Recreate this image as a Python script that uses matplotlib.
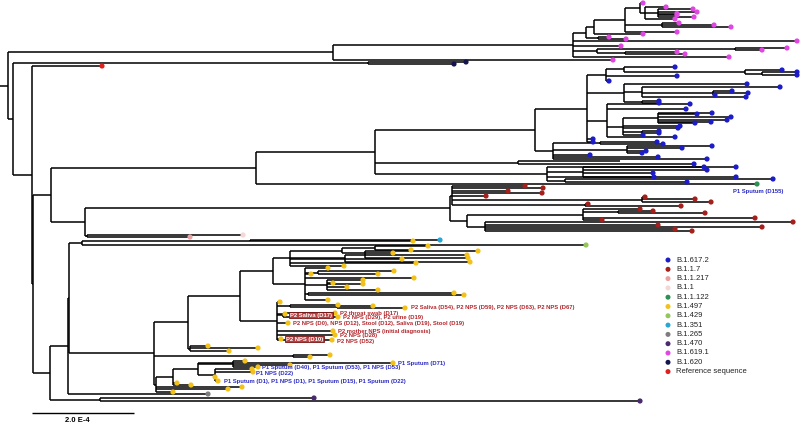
import matplotlib.pyplot as plt

plt.rcParams['font.family'] = ['Liberation Sans', 'DejaVu Sans']

lineages = ["B.1.617.2", "B.1.1.7", "B.1.1.217", "B.1.1", "B.1.1.122", "B.1.497",
            "B.1.429", "B.1.351", "B.1.265", "B.1.470", "B.1.619.1", "B.1.620",
            "Reference sequence"]
lineage_colors = ["#1c1cc8", "#a3201c", "#e9a3a3", "#f4d7d7", "#2f8f55", "#f2c21b",
                  "#96c55b", "#2aa6d6", "#7d7d7d", "#4a2a6e", "#e047e0", "#14144f",
                  "#e0201c"]

# divergence is given in units where 102 = 2.0 E-4 substitutions/site
scale_len = 102
scale_text = "2.0 E-4"

# internal nodes: (name, parent, divergence)
backbone_nodes = [("root", None, 8), ("B", "root", 13), ("D", "B", 32), ("E", "D", 33),
                  ("F", "E", 51), ("G", "E", 50), ("H", "F", 256), ("I", "F", 85),
                  ("K", "H", 375), ("M", "G", 68), ("M2", "M", 69), ("N", "G", 100),
                  ("C", "B", 368), ("PK", "I", 87), ("W", "M2", 82), ("W1", "W", 250),
                  ("X", "M2", 154), ("Z", "X", 293)]
pink_nodes = [("A", "root", 333), ("A1", "A", 573), ("A11", "A1", 586), ("A111", "A11", 594),
              ("A1111", "A111", 625), ("A11111", "A1111", 640), ("A111111", "A11111", 645),
              ("A1111111", "A111111", 658), ("A11112", "A1111", 662), ("A112", "A11", 598),
              ("A12", "A1", 597), ("A121", "A12", 735), ("A122", "A12", 625)]
blue_nodes = [("BL", "K", 535), ("BLa", "BL", 587), ("B1", "BLa", 606), ("B11", "B1", 624),
              ("B111", "B11", 745), ("B1111", "B111", 762), ("B2", "BLa", 624), ("B21", "B2", 642),
              ("B211", "B21", 713), ("B22", "B2", 642), ("B3", "BLa", 607), ("B31", "B3", 623),
              ("B311", "B31", 658), ("B312", "B31", 642), ("BLb", "BL", 553), ("B4", "BLb", 627),
              ("B41", "BLb", 600), ("Q", "K", 467), ("Q1", "Q", 518), ("S", "K", 547),
              ("S1", "S", 583), ("S2", "S", 565)]
alpha_nodes = [("RED", "I", 450), ("Ra", "RED", 452), ("Rc", "RED", 467), ("Rb1", "Ra", 642),
               ("Rb2", "Ra", 585), ("Rc1", "Rc", 583), ("Rc11", "Rc1", 618), ("Rc2", "Rc", 485)]
yellow_nodes = [("Y1", "X", 188), ("Ylow", "Y1", 190), ("Y2", "Y1", 240), ("UY", "Y2", 273),
                ("UYa", "UY", 290), ("UYa1", "UYa", 342), ("UYa11", "UYa1", 375), ("UYa2", "UYa", 345),
                ("UYa21", "UYa2", 365), ("UYb", "UY", 305), ("UYb1", "UYb", 318), ("UYb2", "UYb", 327),
                ("UYb3", "UYb", 308), ("P2", "Y2", 277), ("P2a", "P2", 290), ("P2a1", "P2a", 337),
                ("P2b", "P2", 283), ("P1", "X", 156), ("P1a", "P1", 173), ("P1b", "P1a", 198),
                ("Zc", "P1b", 233), ("P1c", "P1b", 215)]

# tips: (parent, divergence, row, lineage index)
backbone_tips = [("D", 102, 66, 12), ("C", 466, 62, 11), ("C", 454, 64, 11),
                 ("H", 757, 184, 4), ("PK", 243, 235, 3), ("PK", 190, 237, 2),
                 ("M", 208, 394, 8), ("N", 314, 398, 9), ("N", 640, 401, 9),
                 ("W1", 413, 241, 5), ("W1", 440, 240, 7), ("W", 586, 245, 6),
                 ("Z", 310, 357, 5), ("Z", 330, 355, 5)]
pink_tips = [("A11111", 643, 3, 10), ("A111111", 666, 7, 10), ("A1111111", 693, 9, 10),
             ("A1111111", 697, 12, 10), ("A1111111", 677, 13.5, 10), ("A1111111", 677, 15, 10),
             ("A1111111", 694, 17, 10), ("A111111", 675, 19, 10), ("A11112", 679, 23, 10),
             ("A11112", 714, 25, 10), ("A11112", 731, 27, 10), ("A1111", 677, 32, 10),
             ("A111", 643, 34, 10), ("A112", 609, 37, 10), ("A112", 626, 39, 10),
             ("A1", 797, 41, 10), ("A1", 621, 46, 10), ("A121", 787, 48, 10), ("A121", 762, 50, 10),
             ("A122", 677, 52, 10), ("A122", 685, 54, 10), ("A1", 729, 57, 10), ("A", 613, 60, 10)]
blue_tips = [("B11", 675, 67, 0), ("B111", 782, 70, 0), ("B1111", 797, 72, 0), ("B1111", 797, 75, 0),
             ("B1", 677, 76, 0), ("B1", 609, 81, 0), ("B2", 747, 84, 0), ("B21", 780, 87, 0),
             ("B211", 732, 91, 0), ("B211", 748, 93, 0), ("B211", 715, 95, 0), ("B21", 746, 97, 0),
             ("B22", 659, 101, 0), ("B22", 659, 103, 0), ("B3", 690, 104, 0), ("B3", 686, 109, 0),
             ("B311", 712, 113, 0), ("B311", 697, 114, 0), ("B311", 731, 117, 0), ("B311", 727, 120, 0),
             ("B311", 711, 122, 0), ("B311", 695, 123, 0), ("B31", 680, 126, 0), ("B31", 678, 128, 0),
             ("B312", 659, 131, 0), ("B312", 659, 133, 0), ("B31", 643, 135, 0), ("B3", 675, 137, 0),
             ("BLa", 593, 139, 0), ("BLa", 593, 142, 0),
             ("B41", 657, 142, 0), ("B41", 663, 144, 0), ("B4", 712, 146, 0), ("B4", 682, 148, 0),
             ("B4", 646, 151, 0), ("B4", 642, 153, 0), ("BLb", 590, 155, 0), ("BLb", 658, 157, 0),
             ("BLb", 707, 159, 0), ("Q1", 620, 161, None), ("Q1", 694, 164, 0),
             ("S", 736, 167, 0), ("S1", 704, 167, 0), ("S1", 707, 170, 0), ("S1", 653, 173, 0),
             ("S1", 654, 177, 0), ("S", 736, 177, 0), ("S2", 773, 179, 0), ("S2", 687, 182, 0)]
alpha_tips = [("Ra", 525, 186, 1), ("Ra", 543, 188, 1), ("Ra", 508, 191, 1), ("Ra", 542, 193, 1),
              ("Ra", 486, 196, 1), ("Rb1", 645, 197, 1), ("Rb1", 695, 199, 1), ("Rb1", 711, 202, 1),
              ("Rb2", 588, 204, 1), ("Rb2", 681, 206, 1), ("Rc1", 640, 209, 1), ("Rc11", 653, 211, 1),
              ("Rc11", 705, 213, 1), ("Rc1", 755, 218, 1), ("Rc1", 602, 220, 1), ("Rc2", 793, 222, 1),
              ("Rc2", 658, 225, 1), ("Rc2", 762, 227, 1), ("Rc2", 675, 229, 1), ("Rc2", 692, 231, 1)]
yellow_tips = [("Ylow", 208, 346, 5), ("Ylow", 258, 348, 5), ("Ylow", 229, 351, 5),
               ("UYa11", 428, 246, 5), ("UYa11", 411, 250, 5), ("UYa1", 393, 253, 5),
               ("UYa21", 478, 251, 5), ("UYa21", 467, 255, 5), ("UYa21", 468, 258, 5), ("UYa2", 470, 262, 5),
               ("UYa", 402, 259, 5), ("UYa", 416, 263, 5), ("UYa", 344, 266, 5),
               ("UYb", 328, 268, 5), ("UYb1", 394, 271, 5), ("UYb1", 378, 274, 5), ("UYb", 311, 274, 5),
               ("UYb", 414, 278, 5), ("UYb2", 363, 280, 5), ("UYb2", 333, 283, 5), ("UYb2", 363, 284, 5),
               ("UYb2", 347, 287, 5), ("UYb2", 378, 290, 5), ("UYb3", 454, 293, 5), ("UYb3", 464, 295, 5),
               ("UYb", 328, 300, 5),
               ("P2", 280, 302, 5), ("P2a", 338, 305, 5), ("P2a1", 373, 306, 5), ("P2a1", 405, 308, 5),
               ("P2b", 335, 313, 5), ("P2", 285, 314, 5), ("P2b", 338, 317, 5), ("P2", 288, 323, 5),
               ("P2", 333, 331, 5), ("P2", 335, 335, 5), ("P2", 281, 339, 5), ("P2", 332, 340, 5),
               ("Zc", 245, 361, 5), ("Zc", 290, 365, 5), ("Zc", 258, 367, 5), ("P1b", 393, 363, 5),
               ("P1c", 252, 369, 5), ("P1c", 253, 372, 5), ("P1c", 215, 377, 5), ("P1c", 218, 381, 5),
               ("P1a", 177, 383, 5), ("P1a", 191, 385, 5), ("P1", 242, 387, 5), ("P1", 228, 389, 5),
               ("P1", 173, 392, 5)]

# sample annotations: (text, divergence, row, colour, highlighted)
sample_labels = [("P1 Sputum (D155)", 733, 191, "#2b2bc4", False),
                 ("P2 Saliva (D54), P2 NPS (D59), P2 NPS (D63), P2 NPS (D67)", 411, 308, "#b3262b", False),
                 ("P2 throat swab (D17)", 340, 313, "#b3262b", False),
                 ("P2 Saliva (D17)", 290, 315, "#b3262b", True),
                 ("P2 NPS (D29), P2 urine (D19)", 343, 318, "#b3262b", False),
                 ("P2 NPS (D0), NPS (D12), Stool (D12), Saliva (D19), Stool (D19)", 293, 324, "#b3262b", False),
                 ("P2 mother NPS (initial diagnosis)", 338, 331, "#b3262b", False),
                 ("P2 NPS (D28)", 340, 335, "#b3262b", False),
                 ("P2 NPS (D10)", 286, 339, "#b3262b", True),
                 ("P2 NPS (D52)", 337, 341, "#b3262b", False),
                 ("P1 Sputum (D71)", 398, 363, "#2b2bc4", False),
                 ("P1 Sputum (D40), P1 Sputum (D53), P1 NPS (D53)", 262, 368, "#2b2bc4", False),
                 ("P1 NPS (D22)", 256, 374, "#2b2bc4", False),
                 ("P1 Sputum (D1), P1 NPS (D1), P1 Sputum (D15), P1 Sputum (D22)", 224, 382, "#2b2bc4", False)]

# ---- build tree ----
parent, depth, row = {}, {}, {}
for table in (backbone_nodes, pink_nodes, blue_nodes, alpha_nodes, yellow_nodes):
    for name, par, d in table:
        parent[name] = par
        depth[name] = d
tips = []
for table in (backbone_tips, pink_tips, blue_tips, alpha_tips, yellow_tips):
    for par, d, r, lin in table:
        name = "tip%d" % len(tips)
        parent[name] = par
        depth[name] = d
        row[name] = r
        tips.append((name, lin))

children = {}
for name, par in parent.items():
    if par is not None:
        children.setdefault(par, []).append(name)


def place(node):
    if node in row:
        return row[node]
    ys = [place(c) for c in children[node]]
    row[node] = (min(ys) + max(ys)) / 2
    return row[node]


place("root")

fig = plt.figure(figsize=(8, 4.25), dpi=100)
ax = fig.add_axes([0, 0, 1, 1])
ax.set_xlim(0, 800)
ax.set_ylim(425, 0)
ax.axis('off')

lw = 1.1
# horizontal branches (root gets a short stem from 0)
hy, hx0, hx1 = [], [], []
for name, par in parent.items():
    hy.append(row[name])
    hx0.append(0 if par is None else depth[par])
    hx1.append(depth[name])
ax.hlines(hy, hx0, hx1, colors='black', lw=lw, zorder=2)
# vertical connectors
for node, kids in children.items():
    ys = [row[k] for k in kids]
    ax.vlines(depth[node], min(ys), max(ys), colors='black', lw=lw, zorder=2)

# tip dots
for name, lin in tips:
    if lin is None:
        continue
    ax.scatter(depth[name], row[name], s=14, color=lineage_colors[lin], zorder=3,
               edgecolors='none')

# labels
for text, x, y, col, boxed in sample_labels:
    if boxed:
        ax.text(x, y, text, fontsize=4.2, fontweight='bold', color='white', va='center', ha='left',
                zorder=5, bbox=dict(boxstyle='square,pad=0.15', fc='#b84040', ec='#7a1414', lw=0.6))
    else:
        ax.text(x, y, text, fontsize=4.2, fontweight='bold', color=col, va='center', ha='left', zorder=4)

# legend
for i, (lab, col) in enumerate(zip(lineages, lineage_colors)):
    y = 260 + i * 9.3
    ax.scatter(668, y, s=13, color=col, edgecolors='none', zorder=3)
    ax.text(676, y, lab, fontsize=5.5, va='center', ha='left', color='#222222')

# scale bar
ax.hlines(413, 32, 32 + scale_len, colors='black', lw=1.0)
ax.text(77, 421, scale_text, fontsize=5.5, fontweight='bold', ha='center', va='center')

fig.savefig('out.png', dpi=100)
